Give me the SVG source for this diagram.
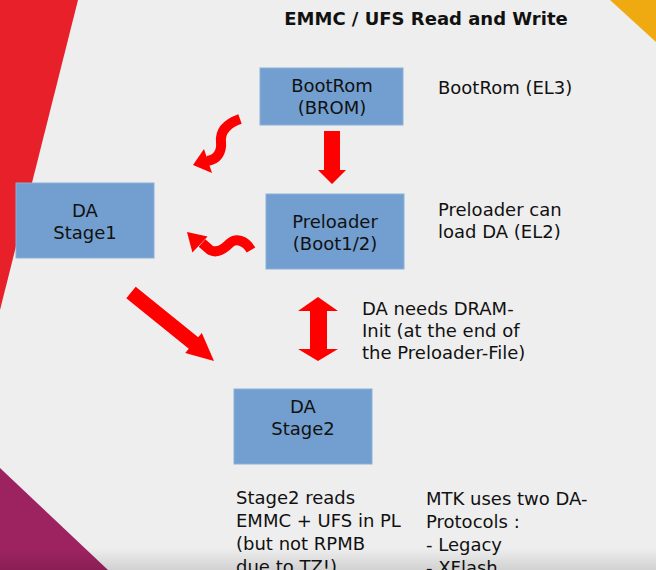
<svg xmlns="http://www.w3.org/2000/svg" width="656" height="570" viewBox="0 0 656 570">
<defs>
<style>
.box{fill:#729fcf;stroke:#8aafd8;stroke-width:1}
.t{font-family:"DejaVu Sans",sans-serif;font-size:18px;fill:#111}
.c{text-anchor:middle}
.title{font-family:"DejaVu Sans",sans-serif;font-size:18px;font-weight:bold;fill:#111}
.arr{fill:#ff0000}
.wave{fill:none;stroke:#ff0000;stroke-width:10;stroke-linecap:butt}
</style>
<linearGradient id="shade" x1="0" y1="0" x2="0" y2="1">
<stop offset="0" stop-color="#000" stop-opacity="0"/>
<stop offset="1" stop-color="#000" stop-opacity="0.12"/>
</linearGradient>
</defs>
<rect x="0" y="0" width="656" height="570" fill="#eeeeee"/>
<polygon points="0,0 78,0 0,310" fill="#e8202a"/>
<polygon points="610,0 656,0 656,42" fill="#efaa12"/>
<polygon points="0,468 108,570 0,570" fill="#9d2360"/>
<text class="title" x="426" y="25" text-anchor="middle">EMMC / UFS Read and Write</text>

<g id="bootrom">
<rect class="box" x="260" y="68" width="143" height="57"/>
<text class="t c" x="332" y="92">BootRom</text>
<text class="t c" x="332" y="114">(BROM)</text>
</g>
<g id="preloader">
<rect class="box" x="266" y="194" width="138" height="75"/>
<text class="t c" x="335" y="228">Preloader</text>
<text class="t c" x="335" y="250">(Boot1/2)</text>
</g>
<g id="stage1">
<rect class="box" x="16" y="183" width="138" height="75"/>
<text class="t c" x="85" y="217">DA</text>
<text class="t c" x="85" y="239">Stage1</text>
</g>
<g id="stage2">
<rect class="box" x="234" y="389" width="138" height="75"/>
<text class="t c" x="303" y="413">DA</text>
<text class="t c" x="303" y="435">Stage2</text>
</g>

<g id="connectors">
<polygon class="arr" points="324,131 340,131 340,170 346,170 332,184 318,170 324,170"/>
<polygon class="arr" points="318,297 338,311 327,311 327,349 338,349 318,361 298,349 310,349 310,311 298,311"/>
<polygon class="arr" points="135.7,286.8 198.2,337.3 201.8,333 214,361 185.2,353 188.8,348.7 126.3,298.2"/>
<path class="wave" d="M240,119 C226,124 220,132 221,142 C222,152 217,160 207,161"/>
<polygon class="arr" points="204,149 212,173 193,165"/>
<path class="wave" stroke-width="9" d="M251,250 C245,240 236,238 230,243 C224,249 217,254 210,250 L202,243"/>
<polygon class="arr" points="207.6,236.6 192.4,252.4 187,232"/>
</g>

<g id="labels">
<text class="t" x="438" y="94">BootRom (EL3)</text>
<text class="t" x="438" y="216">Preloader can</text>
<text class="t" x="438" y="238">load DA (EL2)</text>
<text class="t" x="362" y="315">DA needs DRAM-</text>
<text class="t" x="362" y="337">Init (at the end of</text>
<text class="t" x="362" y="359">the Preloader-File)</text>
<text class="t" x="236" y="504">Stage2 reads</text>
<text class="t" x="236" y="527">EMMC + UFS in PL</text>
<text class="t" x="236" y="550">(but not RPMB</text>
<text class="t" x="236" y="573">due to TZ!)</text>
<text class="t" x="426" y="505">MTK uses two DA-</text>
<text class="t" x="426" y="528">Protocols :</text>
<text class="t" x="426" y="551">- Legacy</text>
<text class="t" x="426" y="574">- XFlash</text>
</g>
<rect x="0" y="548" width="656" height="22" fill="url(#shade)"/>
</svg>
